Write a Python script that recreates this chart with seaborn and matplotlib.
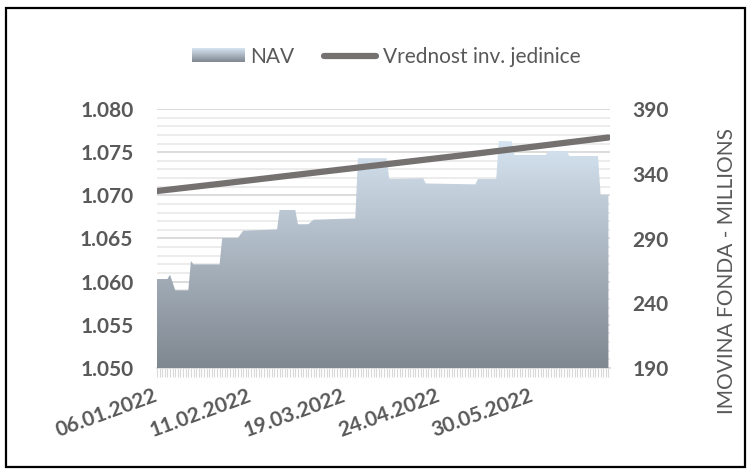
import matplotlib
matplotlib.use('Agg')
import matplotlib.pyplot as plt
import matplotlib.dates as mdates
import seaborn as sns
import numpy as np
import pandas as pd
from matplotlib.colors import LinearSegmentedColormap
from matplotlib.legend_handler import HandlerBase
from matplotlib.image import BboxImage
from matplotlib.transforms import Bbox, TransformedBbox
from matplotlib.patches import Rectangle
from matplotlib.lines import Line2D
from matplotlib.ticker import MultipleLocator, FuncFormatter

# ---------------------------------------------------------------
# Podaci (ocitani sa slike)
# ---------------------------------------------------------------
nav_dates = ['2022-01-06', '2022-01-10', '2022-01-11', '2022-01-13', '2022-01-18',
             '2022-01-19', '2022-01-20', '2022-01-30', '2022-01-31', '2022-02-06',
             '2022-02-08', '2022-02-21', '2022-02-22', '2022-02-28', '2022-03-01',
             '2022-03-05', '2022-03-07', '2022-03-23', '2022-03-24', '2022-04-04',
             '2022-04-05', '2022-04-18', '2022-04-19', '2022-05-08', '2022-05-09',
             '2022-05-16', '2022-05-17', '2022-05-22', '2022-05-23', '2022-06-04',
             '2022-06-05', '2022-06-12', '2022-06-13', '2022-06-24', '2022-06-25',
             '2022-06-28']
nav_values = [258.7, 258.7, 262.0, 250.0, 250.0,
              272.6, 270.0, 270.0, 290.4, 290.4,
              296.0, 297.0, 312.0, 312.0, 301.0,
              301.0, 304.5, 305.5, 352.0, 352.0,
              336.0, 336.5, 332.5, 331.8, 336.0,
              336.0, 365.3, 365.0, 354.5, 354.5,
              357.6, 357.6, 353.7, 353.7, 323.6,
              323.6]

unit_dates = ['2022-01-06', '2022-02-01', '2022-03-01', '2022-04-01',
              '2022-05-02', '2022-06-01', '2022-06-28']
unit_values = [1.0705, 1.0714, 1.0724, 1.0735, 1.0746, 1.0757, 1.0767]

tick_dates = ['2022-01-06', '2022-02-11', '2022-03-19', '2022-04-24', '2022-05-30']
nav_ticks = [190, 240, 290, 340, 390]

nav = pd.DataFrame({'Datum': pd.to_datetime(nav_dates), 'NAV': nav_values})
unit = pd.DataFrame({'Datum': pd.to_datetime(unit_dates), 'Vrednost': unit_values})

# ---------------------------------------------------------------
# Stil
# ---------------------------------------------------------------
sns.set_theme(style='white')
plt.rcParams['font.family'] = ['Lato', 'DejaVu Sans']
TXT = '#595959'
GRID_MAJ = '#D9D9D9'
GRID_MIN = '#EBEBEB'
LINE_C = '#767171'
grad_cmap = LinearSegmentedColormap.from_list('nav', ['#7F8790', '#D6E4F1'])


class GradientHandler(HandlerBase):
    def create_artists(self, legend, orig_handle, xdescent, ydescent,
                       width, height, fontsize, trans):
        bb = Bbox.from_bounds(-xdescent, -ydescent, width, height)
        img = BboxImage(TransformedBbox(bb, trans), cmap=grad_cmap,
                        interpolation='bilinear', origin='lower')
        img.set_data(np.linspace(0, 1, 64).reshape(-1, 1))
        return [img]


fig = plt.figure(figsize=(7.51, 4.74), dpi=100)
ax = fig.add_axes([157 / 751, 1 - 368 / 474, (610 - 157) / 751, (368 - 109) / 474])
ax2 = ax.twinx()   # NAV (desna osa)
ax3 = ax.twinx()   # linija, ista skala kao leva osa

x0, x1 = nav['Datum'].iloc[0], nav['Datum'].iloc[-1]

# leva osa - mreza i oznake
ax.set_ylim(1.050, 1.080)
ax.yaxis.set_major_locator(MultipleLocator(0.005))
ax.yaxis.set_minor_locator(MultipleLocator(0.001))
ax.yaxis.set_major_formatter(FuncFormatter(lambda v, p: f'{v:.3f}'))
ax.grid(which='minor', axis='y', color=GRID_MIN, lw=1.3)
ax.grid(which='major', axis='y', color=GRID_MAJ, lw=1.3)
ax.grid(False, axis='x', which='both')
ax.set_axisbelow(True)
ax.tick_params(axis='y', which='both', length=0, pad=17, labelsize=15,
               labelcolor=TXT)
for t in ax.get_yticklabels():
    t.set_fontweight('bold')

# NAV povrsina sa gradijentom
poly = ax2.fill_between(nav['Datum'], nav['NAV'], 190, facecolor='none',
                        edgecolor='none')
img = ax2.imshow(np.linspace(0, 1, 256).reshape(-1, 1), cmap=grad_cmap,
                 aspect='auto', origin='lower', interpolation='bilinear',
                 extent=[mdates.date2num(x0), mdates.date2num(x1), 190,
                         max(nav_values)])
img.set_clip_path(poly.get_paths()[0], ax2.transData)
ax2.set_ylim(190, 390)
ax2.set_yticks(nav_ticks)
ax2.tick_params(axis='y', length=0, pad=16, labelsize=15, labelcolor=TXT)
for t in ax2.get_yticklabels():
    t.set_fontweight('bold')
ax2.grid(False)

# vrednost investicione jedinice
sns.lineplot(data=unit, x='Datum', y='Vrednost', ax=ax3, color=LINE_C,
             lw=4.5, solid_capstyle='round', legend=False)
ax3.set_ylim(1.050, 1.080)
ax3.set_yticks([])
ax3.grid(False)

for a in (ax, ax2, ax3):
    a.set_xlim(x0, x1 + pd.Timedelta(days=0.6))
    for s in a.spines.values():
        s.set_visible(False)
    a.set_xlabel('')
    a.set_ylabel('')
ax.spines['bottom'].set_visible(True)
ax.spines['bottom'].set_color(GRID_MAJ)

ax.set_xticks(pd.to_datetime(tick_dates))
ax.xaxis.set_major_formatter(mdates.DateFormatter('%d.%m.%Y'))
ax.xaxis.set_minor_locator(mdates.DayLocator())
ax.tick_params(axis='x', which='both', direction='out', length=6.5, width=0.8,
               color=GRID_MAJ, bottom=True)
ax.tick_params(axis='x', which='major', pad=13, labelsize=15, labelcolor=TXT)
for t in ax.get_xticklabels():
    t.set_rotation(20)
    t.set_ha('right')
    t.set_va('center')
    t.set_rotation_mode('anchor')
    t.set_fontweight('bold')
ax2.tick_params(axis='x', which='both', bottom=False, labelbottom=False)
ax3.tick_params(axis='x', which='both', bottom=False, labelbottom=False)

# naslov desne ose
fig.text(727 / 751, 1 - 271 / 474, 'IMOVINA FONDA - MILLIONS', rotation=90,
         ha='center', va='center', fontsize=15, color=TXT)

# legenda
nav_handle = Rectangle((0, 0), 1, 1)
line_handle = Line2D([0], [0], color=LINE_C, lw=4.5, solid_capstyle='round')
fig.legend([nav_handle, line_handle], ['NAV', 'Vrednost inv. jedinice'],
           loc='center', bbox_to_anchor=(386 / 751, 1 - 57 / 474), ncol=2,
           frameon=False, fontsize=15, labelcolor=TXT, handlelength=2.5,
           handleheight=0.63, handletextpad=0.3, columnspacing=1.45,
           handler_map={nav_handle: GradientHandler()})

# okvir oko grafikona
fig.patches.append(Rectangle((6 / 751, 7 / 474), 739 / 751, 459 / 474,
                             transform=fig.transFigure, fill=False,
                             ec='black', lw=1.6))

fig.savefig('out.png', dpi=100, facecolor='white')
